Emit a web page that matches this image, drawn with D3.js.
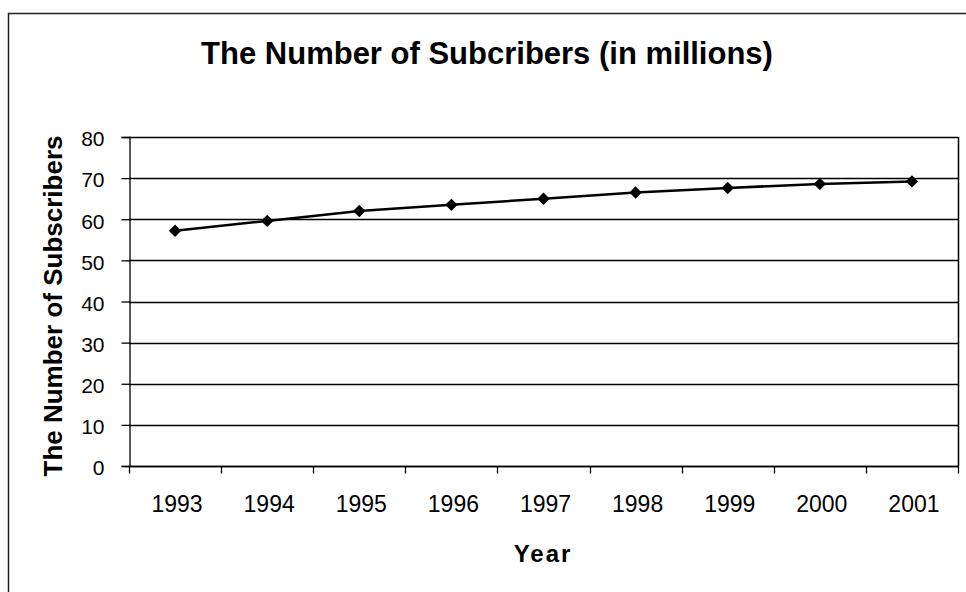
<!DOCTYPE html>
<html>
<head>
<meta charset="utf-8">
<script src="https://cdn.jsdelivr.net/npm/d3@7"></script>
<style>
  body { margin: 0; background: #fff; }
  text { font-family: "Liberation Sans", Arial, sans-serif; fill: #000; }
</style>
</head>
<body>
<div id="chart"></div>
<script>
// values
var years = ["1993", "1994", "1995", "1996", "1997", "1998", "1999", "2000", "2001"];
var subscribers = [57.2, 59.6, 62.0, 63.5, 65.0, 66.5, 67.6, 68.6, 69.2];
var yTicks = [0, 10, 20, 30, 40, 50, 60, 70, 80];

var width = 966, height = 592;
var plot = { left: 129, right: 958, top: 137, bottom: 466 };

var svg = d3.select("#chart").append("svg")
    .attr("width", width)
    .attr("height", height);

// outer frame (only top and left show in the picture)
svg.append("path")
    .attr("d", "M8.5,592 V13.5 H966")
    .attr("fill", "none")
    .attr("stroke", "#222")
    .attr("stroke-width", 1.5);

var x = d3.scaleBand()
    .domain(years)
    .range([plot.left, plot.right]);

var y = d3.scaleLinear()
    .domain([0, 80])
    .range([plot.bottom, plot.top]);

// gridlines
svg.append("g")
    .selectAll("line")
    .data(yTicks)
    .enter().append("line")
    .attr("x1", plot.left)
    .attr("x2", plot.right)
    .attr("y1", d => Math.round(y(d)) + 0.5)
    .attr("y2", d => Math.round(y(d)) + 0.5)
    .attr("stroke", "#000")
    .attr("stroke-width", 1.3);

// right edge of plot area
svg.append("line")
    .attr("x1", plot.right + 0.5).attr("x2", plot.right + 0.5)
    .attr("y1", plot.top).attr("y2", plot.bottom)
    .attr("stroke", "#000")
    .attr("stroke-width", 1.5);

// y axis
var yAxis = svg.append("g")
    .attr("transform", "translate(" + (plot.left + 0.5) + ",0)")
    .call(d3.axisLeft(y).tickValues(yTicks).tickSize(8).tickPadding(17));
yAxis.selectAll("text")
    .style("font-size", "21px")
    .attr("dy", "0.42em")
    .attr("font-family", null);
yAxis.selectAll("line, path").attr("stroke", "#000").attr("stroke-width", 1.3);

// x axis - ticks sit between categories like in the spreadsheet
var xAxis = svg.append("g")
    .attr("transform", "translate(0," + (Math.round(plot.bottom) + 0.5) + ")");
xAxis.append("line")
    .attr("x1", plot.left).attr("x2", plot.right + 1)
    .attr("stroke", "#000").attr("stroke-width", 1.5);
var boundaries = years.map(d => x(d)).concat([plot.right]);
xAxis.selectAll("line.tick")
    .data(boundaries)
    .enter().append("line")
    .attr("class", "tick")
    .attr("x1", d => Math.round(d) + 0.5)
    .attr("x2", d => Math.round(d) + 0.5)
    .attr("y1", 0).attr("y2", 7)
    .attr("stroke", "#000").attr("stroke-width", 1.3);
xAxis.selectAll("text")
    .data(years)
    .enter().append("text")
    .attr("x", d => x(d) + x.bandwidth() / 2 + 2)
    .attr("y", 45.5)
    .attr("text-anchor", "middle")
    .style("font-size", "23px")
    .text(d => d);

// line and markers
var line = d3.line()
    .x((d, i) => x(years[i]) + x.bandwidth() / 2)
    .y(d => y(d));

svg.append("path")
    .datum(subscribers)
    .attr("d", line)
    .attr("fill", "none")
    .attr("stroke", "#000")
    .attr("stroke-width", 2.5);

svg.append("g")
    .selectAll("path")
    .data(subscribers)
    .enter().append("path")
    .attr("d", d3.symbol(d3.symbolDiamond2, 98))
    .attr("transform", (d, i) => "translate(" + (x(years[i]) + x.bandwidth() / 2) + "," + y(d) + ")")
    .attr("fill", "#000");

// titles
svg.append("text")
    .attr("x", 487)
    .attr("y", 64)
    .attr("text-anchor", "middle")
    .style("font-size", "31px")
    .style("font-weight", "bold")
    .text("The Number of Subcribers (in millions)");

svg.append("text")
    .attr("x", 543)
    .attr("y", 562)
    .attr("text-anchor", "middle")
    .style("font-size", "24px")
    .style("font-weight", "bold")
    .style("letter-spacing", "2px")
    .text("Year");

svg.append("text")
    .attr("transform", "translate(62,306) rotate(-90)")
    .attr("text-anchor", "middle")
    .style("font-size", "26px")
    .style("font-weight", "bold")
    .text("The Number of Subscribers");
</script>
</body>
</html>
